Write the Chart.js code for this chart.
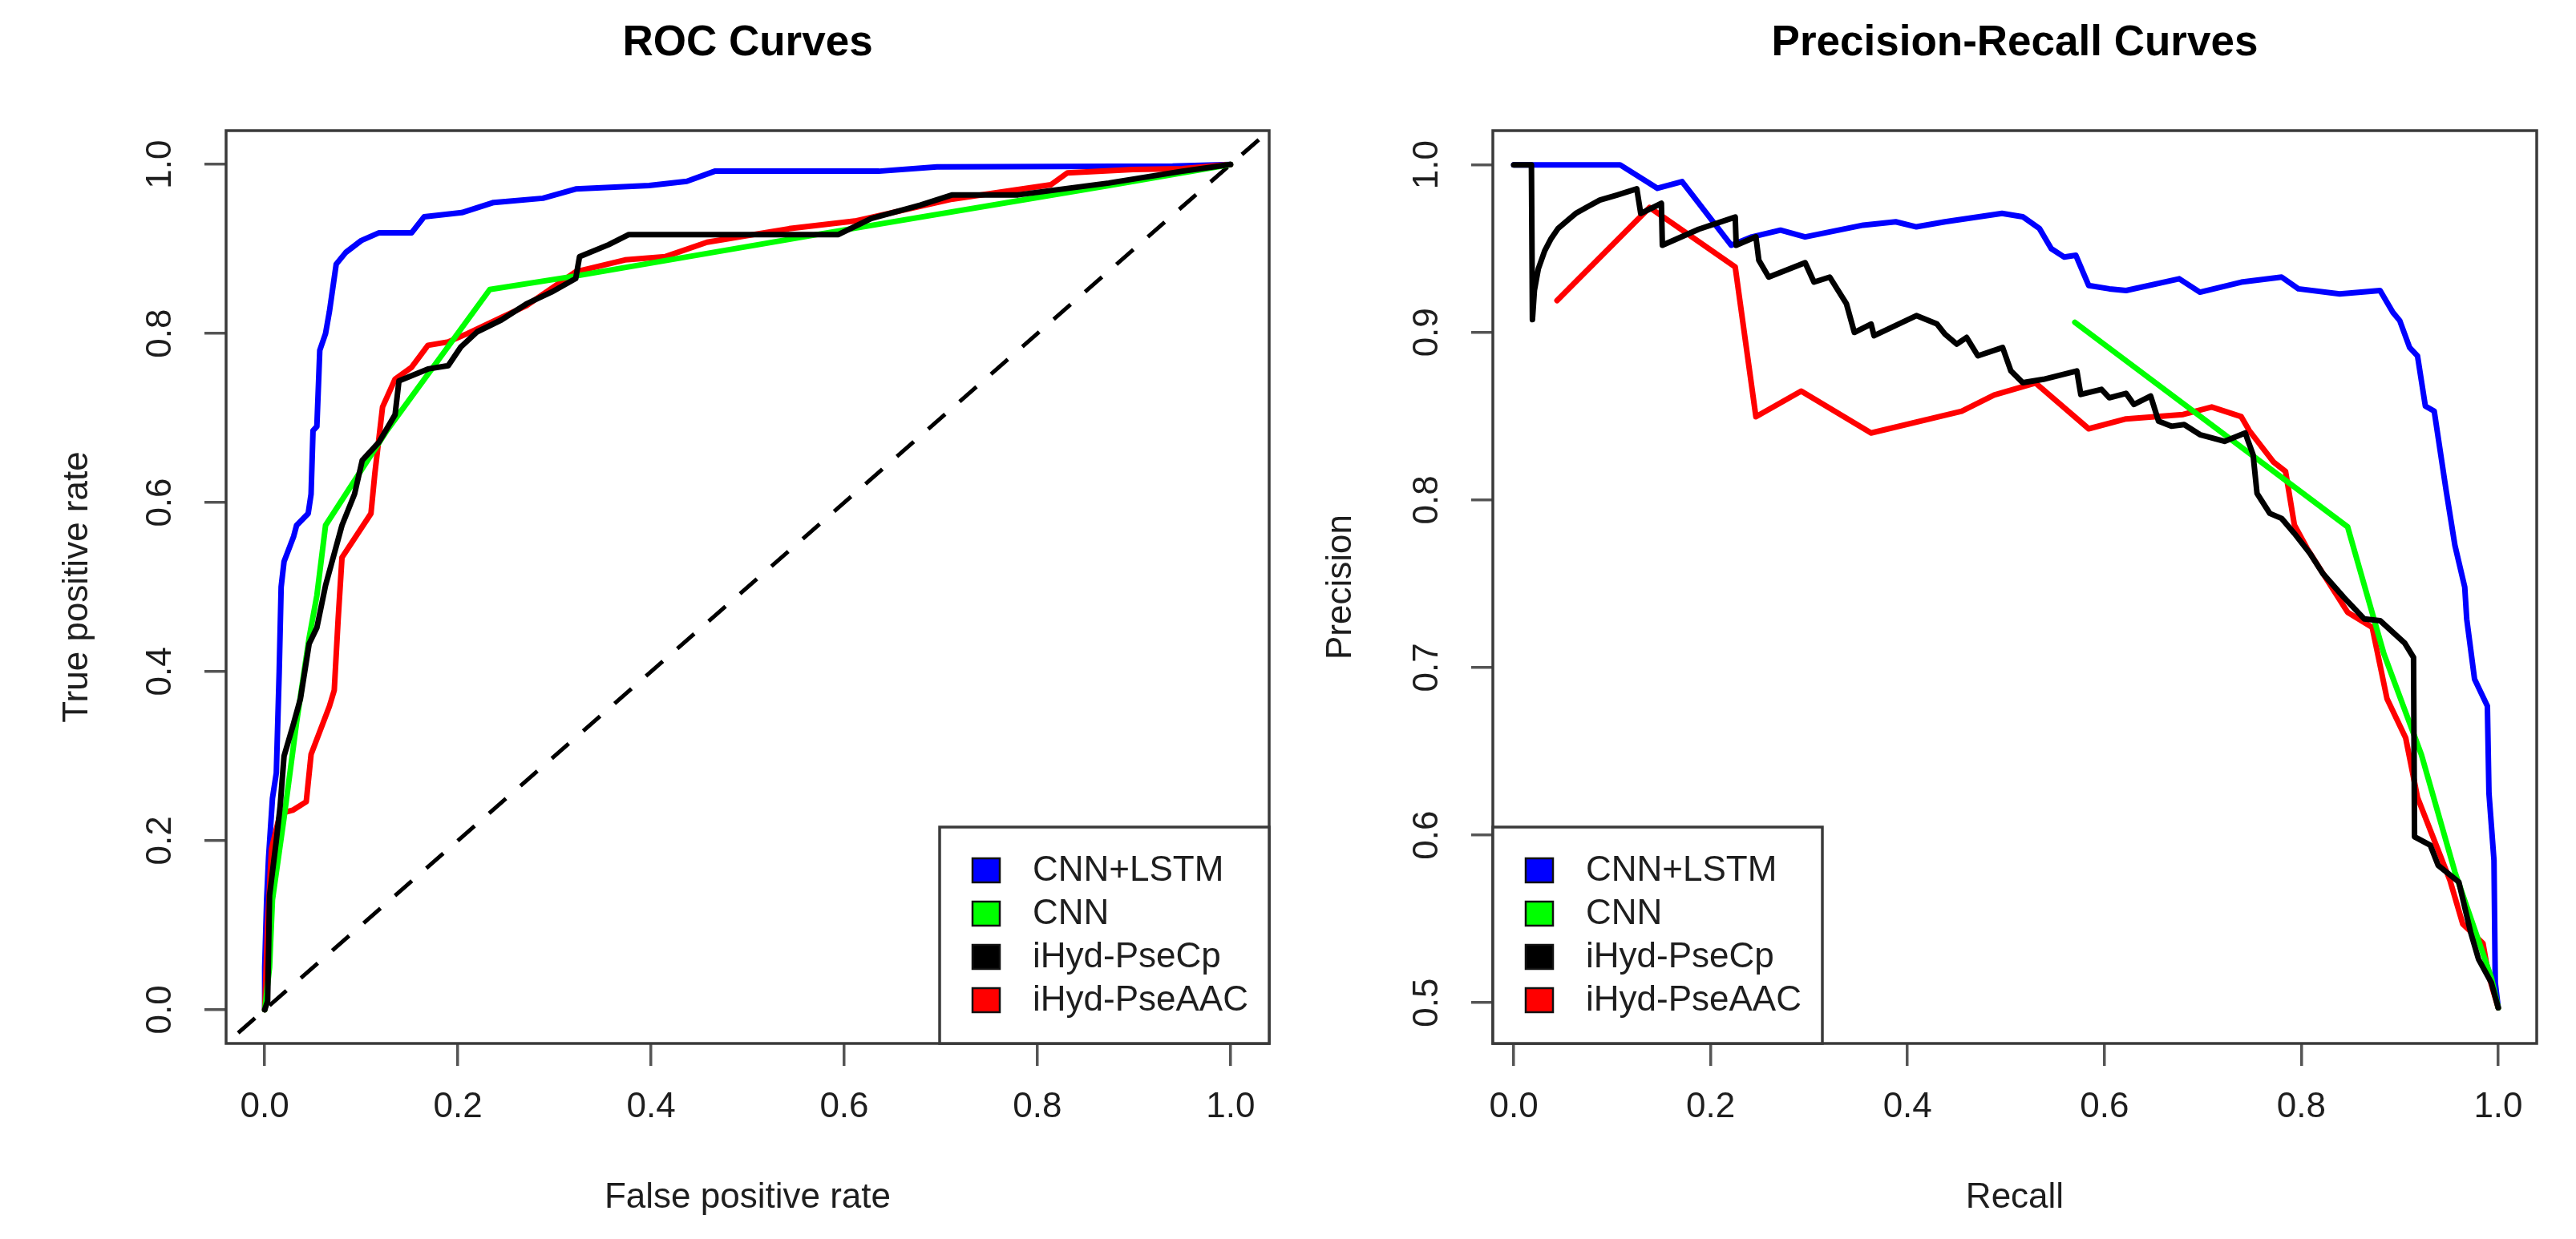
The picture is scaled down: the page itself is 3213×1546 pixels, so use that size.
<!DOCTYPE html>
<html>
<head>
<meta charset="utf-8">
<script src="https://cdn.jsdelivr.net/npm/chart.js@4.4.1/dist/chart.umd.min.js"></script>
<style>
html,body{margin:0;padding:0;background:#ffffff;}
#wrap{position:relative;width:3213px;height:1546px;background:#fff;}
canvas{position:absolute;top:0;}
#roc{left:0;width:1606px;height:1546px;}
#pr{left:1606px;width:1607px;height:1546px;}
</style>
</head>
<body>
<div id="wrap">
<canvas id="roc" width="1606" height="1546"></canvas>
<canvas id="pr" width="1607" height="1546"></canvas>
</div>
<script>
// ---------------- DATA ----------------
const seriesNames = ['CNN+LSTM', 'CNN', 'iHyd-PseCp', 'iHyd-PseAAC'];
const seriesColors = ['#0000FF', '#00FF00', '#000000', '#FF0000'];

const axisTicks = [0, 0.2, 0.4, 0.6, 0.8, 1.0];
const axisTickLabels = ['0.0', '0.2', '0.4', '0.6', '0.8', '1.0'];
const precisionTicks = [0.5, 0.6, 0.7, 0.8, 0.9, 1.0];
const precisionTickLabels = ['0.5', '0.6', '0.7', '0.8', '0.9', '1.0'];

// ROC curves: [false positive rate, true positive rate]
const rocCnnLstm = [[0,0],[0,0.05],[0.002,0.13],[0.004,0.18],[0.008,0.25],[0.012,0.28],[0.015,0.40],[0.017,0.50],[0.02,0.53],[0.03,0.56],[0.033,0.573],[0.045,0.587],[0.048,0.61],[0.05,0.685],[0.054,0.69],[0.057,0.78],[0.063,0.80],[0.067,0.826],[0.074,0.882],[0.084,0.896],[0.10,0.91],[0.118,0.919],[0.152,0.919],[0.165,0.938],[0.204,0.943],[0.237,0.955],[0.288,0.96],[0.322,0.971],[0.398,0.975],[0.437,0.98],[0.466,0.992],[0.636,0.992],[0.696,0.997],[0.94,0.998],[1,1]];
const rocCnn = [[0,0],[0.005,0.05],[0.008,0.13],[0.02,0.227],[0.033,0.34],[0.046,0.44],[0.054,0.49],[0.063,0.573],[0.127,0.686],[0.233,0.852],[0.322,0.868],[0.577,0.918],[0.874,0.975],[1,1]];
const rocPseCp = [[0,0],[0.003,0.01],[0.005,0.135],[0.012,0.2],[0.016,0.241],[0.02,0.30],[0.029,0.335],[0.037,0.368],[0.046,0.433],[0.054,0.452],[0.063,0.502],[0.08,0.573],[0.093,0.61],[0.101,0.65],[0.118,0.671],[0.135,0.704],[0.139,0.744],[0.169,0.758],[0.19,0.762],[0.203,0.784],[0.22,0.802],[0.245,0.816],[0.271,0.835],[0.297,0.849],[0.322,0.865],[0.326,0.891],[0.356,0.905],[0.377,0.917],[0.594,0.917],[0.628,0.936],[0.679,0.952],[0.712,0.964],[0.78,0.964],[0.874,0.978],[0.95,0.992],[1,1]];
const rocPseAAC = [[0,0],[0.003,0.10],[0.007,0.19],[0.016,0.232],[0.029,0.236],[0.043,0.246],[0.048,0.302],[0.067,0.359],[0.072,0.378],[0.076,0.4615],[0.08,0.535],[0.11,0.587],[0.114,0.634],[0.122,0.713],[0.135,0.746],[0.152,0.76],[0.169,0.786],[0.19,0.79],[0.21,0.80],[0.245,0.819],[0.271,0.833],[0.322,0.873],[0.373,0.887],[0.415,0.891],[0.458,0.908],[0.543,0.924],[0.611,0.933],[0.712,0.959],[0.814,0.976],[0.831,0.99],[0.899,0.994],[0.95,0.995],[1,1]];
const rocChance = [[-0.06,-0.06],[1.06,1.06]];

// Precision-recall curves: [recall, precision]
const prCnnLstm = [[0,1],[0.108,1],[0.146,0.986],[0.171,0.99],[0.221,0.952],[0.242,0.957],[0.271,0.961],[0.296,0.957],[0.355,0.964],[0.388,0.966],[0.409,0.963],[0.438,0.966],[0.496,0.971],[0.517,0.969],[0.534,0.962],[0.546,0.95],[0.559,0.945],[0.571,0.946],[0.584,0.928],[0.605,0.926],[0.622,0.925],[0.676,0.932],[0.697,0.924],[0.739,0.930],[0.780,0.933],[0.797,0.926],[0.839,0.923],[0.880,0.925],[0.893,0.912],[0.90,0.907],[0.910,0.891],[0.918,0.886],[0.926,0.856],[0.935,0.853],[0.947,0.806],[0.956,0.773],[0.966,0.748],[0.968,0.729],[0.976,0.693],[0.989,0.677],[0.9906,0.625],[0.9957,0.585],[0.997,0.512],[1.0,0.497]];
const prCnn = [[0.570,0.906],[0.847,0.784],[0.884,0.708],[0.922,0.648],[0.956,0.578],[0.993,0.515],[1.0,0.497]];
const prPseCp = [[0,1],[0.018,1],[0.019,0.9076],[0.021,0.925],[0.025,0.938],[0.0315,0.9487],[0.038,0.956],[0.045,0.962],[0.055,0.967],[0.063,0.971],[0.075,0.975],[0.0875,0.979],[0.105,0.982],[0.125,0.9857],[0.129,0.971],[0.15,0.977],[0.151,0.952],[0.188,0.9616],[0.225,0.9688],[0.226,0.952],[0.246,0.957],[0.249,0.943],[0.259,0.933],[0.296,0.9416],[0.305,0.93],[0.321,0.933],[0.338,0.917],[0.346,0.90],[0.363,0.905],[0.366,0.898],[0.409,0.91],[0.43,0.905],[0.438,0.899],[0.45,0.893],[0.46,0.897],[0.4715,0.886],[0.4966,0.891],[0.505,0.877],[0.517,0.87],[0.538,0.872],[0.572,0.877],[0.576,0.863],[0.597,0.866],[0.605,0.861],[0.622,0.8636],[0.63,0.857],[0.647,0.862],[0.655,0.847],[0.668,0.844],[0.681,0.845],[0.697,0.839],[0.722,0.835],[0.743,0.840],[0.751,0.827],[0.755,0.804],[0.768,0.792],[0.78,0.789],[0.793,0.78],[0.809,0.768],[0.822,0.756],[0.843,0.742],[0.864,0.729],[0.88,0.728],[0.905,0.7146],[0.914,0.706],[0.915,0.599],[0.931,0.594],[0.939,0.582],[0.96,0.572],[0.972,0.542],[0.98,0.526],[0.993,0.512],[1.0,0.497]];
const prPseAAC = [[0.044,0.919],[0.138,0.9745],[0.225,0.939],[0.246,0.8497],[0.292,0.865],[0.363,0.840],[0.455,0.853],[0.488,0.8626],[0.530,0.8698],[0.584,0.8425],[0.622,0.8484],[0.68,0.851],[0.709,0.8555],[0.739,0.8497],[0.747,0.8415],[0.772,0.8225],[0.784,0.817],[0.793,0.785],[0.806,0.771],[0.847,0.733],[0.872,0.724],[0.887,0.6815],[0.906,0.658],[0.918,0.6225],[0.935,0.597],[0.951,0.573],[0.964,0.547],[0.9845,0.5355],[0.99,0.517],[1.0,0.497]];

// ---------------- RENDERING ----------------
const FONT = '"Liberation Sans", Arial, Helvetica, sans-serif';
Chart.defaults.font.family = FONT;
const TEXT = '#1e1e1e';
const drawOrder = [4, 2, 1, 3]; // black on top, then green, red, blue

function pts(arr){ return arr.map(p => ({x: p[0], y: p[1]})); }

const boxPlugin = {
  id: 'rbox',
  afterDatasetsDraw(chart){
    const {ctx, chartArea: a} = chart;
    ctx.save();
    ctx.strokeStyle = '#3a3a3a';
    ctx.lineWidth = 3.5;
    ctx.strokeRect(a.left, a.top, a.right - a.left, a.bottom - a.top);
    ctx.restore();
  }
};

const legendPlugin = {
  id: 'rlegend',
  afterDraw(chart, args, o){
    const {ctx, chartArea: a} = chart;
    const w = o.width, h = o.height;
    const left = o.corner === 'bottomright' ? a.right - w : a.left;
    const top = a.bottom - h;
    ctx.save();
    ctx.fillStyle = '#ffffff';
    ctx.fillRect(left, top, w, h);
    ctx.strokeStyle = '#3a3a3a';
    ctx.lineWidth = 3.5;
    ctx.strokeRect(left, top, w, h);
    const items = chart.data.datasets.filter(d => d.inLegend);
    items.forEach((d, i) => {
      const cy = top + o.spacing * (i + 1);
      ctx.fillStyle = d.borderColor;
      ctx.fillRect(left + 41, cy - 15, 34, 30);
      ctx.strokeStyle = '#111';
      ctx.lineWidth = 2.5;
      ctx.strokeRect(left + 41, cy - 15, 34, 30);
      ctx.fillStyle = TEXT;
      ctx.font = '44px ' + FONT;
      ctx.textBaseline = 'middle';
      ctx.textAlign = 'left';
      ctx.fillText(d.label, left + 116, cy + 1);
    });
    ctx.restore();
  }
};

function lineDs(label, arr, color, order){
  return {label, data: pts(arr), showLine: true, borderColor: color, backgroundColor: color,
    borderWidth: 7, pointRadius: 0, pointHoverRadius: 0, tension: 0, fill: false,
    borderJoinStyle: 'round', borderCapStyle: 'round', order, inLegend: true};
}

function axisCfg(min, max, ticks, labels, titleText, isY, fitSize, titlePad, tickPad){
  const cfg = {
    type: 'linear', min, max, bounds: 'data',
    afterBuildTicks: s => { s.ticks = ticks.map(v => ({value: v})); },
    afterFit: s => { if (isY) s.width = fitSize; else s.height = fitSize; },
    ticks: {
      autoSkip: false,
      callback: v => { const i = ticks.findIndex(t => Math.abs(t - v) < 1e-9); return i >= 0 ? labels[i] : ''; },
      font: {size: 44, family: FONT}, color: TEXT, padding: tickPad
    },
    grid: {display: true, drawOnChartArea: false, drawTicks: true, tickLength: isY ? 27 : 28,
      tickWidth: 3.5, tickColor: '#555', color: '#555', lineWidth: 3.5},
    border: {display: false},
    title: {display: true, text: titleText, font: {size: 44, family: FONT}, color: TEXT,
      padding: isY ? {top: titlePad, bottom: 0} : {top: 0, bottom: titlePad}}
  };
  if (isY) { cfg.ticks.minRotation = 90; cfg.ticks.maxRotation = 90; cfg.ticks.crossAlign = 'center'; }
  else { cfg.ticks.minRotation = 0; cfg.ticks.maxRotation = 0; }
  return cfg;
}

function makePanel(id, o){
  return new Chart(document.getElementById(id), {
    type: 'scatter',
    data: {datasets: o.datasets},
    options: {
      responsive: false, animation: false, devicePixelRatio: 1, events: [],
      layout: {padding: {left: 0, right: o.padRight, top: 0, bottom: 0}},
      plugins: {
        legend: {display: false}, tooltip: {enabled: false},
        title: {display: true, text: o.title, fullSize: false, color: '#000',
          font: {size: 53, weight: 'bold', family: FONT}, padding: {top: 22.2, bottom: 77.2}},
        rlegend: {corner: o.legendCorner, width: 411, height: 270, spacing: 54}
      },
      scales: {
        x: axisCfg(o.xMin, o.xMax, axisTicks, axisTickLabels, o.xTitle, false, 244, 24.6, 25.6),
        y: axisCfg(o.yMin, o.yMax, o.yTicks, o.yTickLabels, o.yTitle, true, o.yWidth, o.yTitlePad, 23.4)
      }
    },
    plugins: [boxPlugin, legendPlugin]
  });
}

makePanel('roc', {
  title: 'ROC Curves', xTitle: 'False positive rate', yTitle: 'True positive rate',
  xMin: -0.04, xMax: 1.04, yMin: -0.04, yMax: 1.04,
  yTicks: axisTicks, yTickLabels: axisTickLabels,
  padRight: 23, yWidth: 282, yTitlePad: 70.6, legendCorner: 'bottomright',
  datasets: [
    lineDs(seriesNames[0], rocCnnLstm, seriesColors[0], drawOrder[0]),
    lineDs(seriesNames[1], rocCnn, seriesColors[1], drawOrder[1]),
    lineDs(seriesNames[2], rocPseCp, seriesColors[2], drawOrder[2]),
    lineDs(seriesNames[3], rocPseAAC, seriesColors[3], drawOrder[3]),
    {label: 'chance', data: pts(rocChance), showLine: true, borderColor: '#000', borderWidth: 5,
      borderDash: [28, 24], pointRadius: 0, tension: 0, fill: false, order: 5, clip: 0, inLegend: false}
  ]
});

makePanel('pr', {
  title: 'Precision-Recall Curves', xTitle: 'Recall', yTitle: 'Precision',
  xMin: -0.0212, xMax: 1.0391, yMin: 0.4757, yMax: 1.0204,
  yTicks: precisionTicks, yTickLabels: precisionTickLabels,
  padRight: 49, yWidth: 256, yTitlePad: 40.6, legendCorner: 'bottomleft',
  datasets: [
    lineDs(seriesNames[0], prCnnLstm, seriesColors[0], drawOrder[0]),
    lineDs(seriesNames[1], prCnn, seriesColors[1], drawOrder[1]),
    lineDs(seriesNames[2], prPseCp, seriesColors[2], drawOrder[2]),
    lineDs(seriesNames[3], prPseAAC, seriesColors[3], drawOrder[3])
  ]
});
</script>
</body>
</html>
